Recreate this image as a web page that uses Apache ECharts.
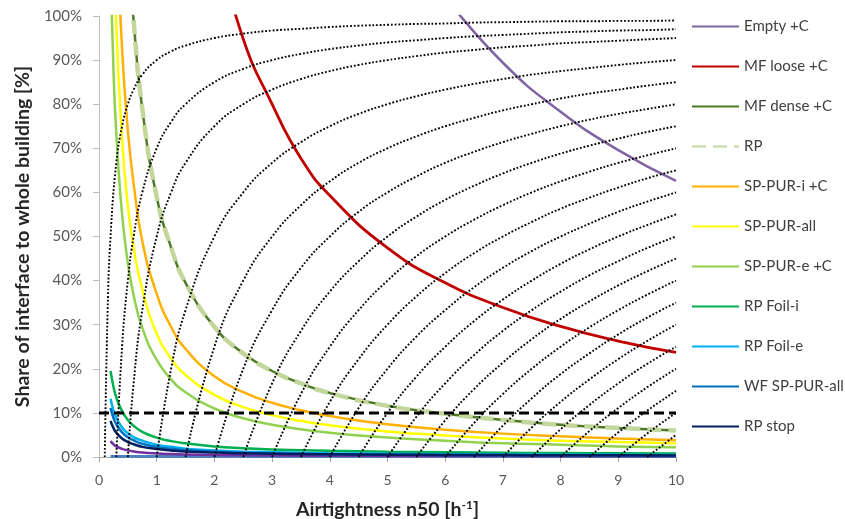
<!DOCTYPE html>
<html>
<head>
<meta charset="utf-8">
<script src="https://cdn.jsdelivr.net/npm/echarts@6/dist/echarts.min.js"></script>
<style>
html,body{margin:0;padding:0;background:#fff;}
#chart{width:845px;height:519px;}
</style>
</head>
<body>
<div id="chart"></div>
<script>
// ---- x positions of the coloured curves ----
const xVals = [0.2,0.25,0.3,0.4,0.5,0.6,0.75,1,1.25,1.5,2,2.5,3,3.5,4,5,6,7,8,9,10];

// ---- coloured series values [%] (null = not drawn) ----
const emptyC    = [null,null,null,null,null,null,null,null,null,null,null,null,null,null,null,null,104.3,89.4,78.3,69.6,62.6];
const mfLoose   = [null,null,null,null,null,null,null,null,null,null,118.5,94.8,80,67.7,59.3,47.4,39.5,33.9,29.6,26.3,23.7];
const mfDense   = [null,null,null,null,118,99,79,59,47.5,39.5,29.5,23.5,19.5,16.7,14.5,11.6,9.8,8.4,7.3,6.6,6.0];
const rp        = [null,null,null,null,118,99,79,59,47.5,39.5,29.5,23.5,19.5,16.7,14.5,11.6,9.8,8.4,7.3,6.6,6.0];
const spPurI    = [185,148,123,92.5,74,62,49,37,29.5,24.5,18.3,14.7,12.3,10.6,9.3,7.4,6.2,5.3,4.7,4.2,3.8];
const spPurAll  = [142,116,98,72,57,47.5,38,28,22.3,18.6,14.1,11.3,9.5,8.2,7.2,5.8,4.9,4.2,3.7,3.4,3.1];
const spPurE    = [110,88,73.3,55,44,36.7,29.3,22,17.6,14.7,11,8.8,7.3,6.3,5.5,4.4,3.7,3.1,2.8,2.4,2.2];
const rpFoilI   = [19.5,16,13.5,10.4,8.4,7.1,5.7,4.4,3.6,3.1,2.4,2.0,1.7,1.55,1.4,1.2,1.07,0.97,0.9,0.84,0.8];
const rpFoilE   = [13.2,10.6,8.9,6.7,5.4,4.5,3.7,2.8,2.3,1.9,1.5,1.2,1.07,0.95,0.85,0.72,0.63,0.57,0.53,0.49,0.46];
const wfSpPur   = [11.1,8.9,7.4,5.6,4.5,3.8,3.0,2.3,1.86,1.57,1.2,0.98,0.83,0.73,0.65,0.54,0.47,0.41,0.38,0.34,0.32];
const rpStop    = [8.2,6.6,5.5,4.2,3.4,2.9,2.3,1.8,1.5,1.27,1.0,0.84,0.73,0.66,0.6,0.52,0.47,0.43,0.4,0.38,0.36];
const purpleLow = [3.6,2.9,2.4,1.85,1.5,1.27,1.03,0.8,0.66,0.57,0.45,0.38,0.33,0.3,0.28,0.24,0.22,0.2,0.19,0.18,0.17];
const baseLine  = [0.1,0.1,0.1,0.1,0.1,0.1,0.1,0.1,0.1,0.1,0.1,0.1,0.1,0.1,0.1,0.1,0.1,0.1,0.1,0.1,0.1];

// ---- dotted guide curves: x positions; each curve's values run to the last x (10) ----
const xDot = [0.1,0.15,0.2,0.3,0.4,0.5,0.6,0.75,1,1.25,1.5,2,2.5,3,3.5,4,4.5,5,5.5,6,6.5,7,7.5,8,8.5,9,9.5,10];
const dotCurves = [
  [0,33.3,50,66.7,75,80,83.3,86.7,90,92,93.3,95,96,96.7,97.1,97.5,97.8,98,98.2,98.3,98.5,98.6,98.7,98.8,98.8,98.9,98.9,99],
  [0,25,40,50,60,70,76,80,85,88,90,91.4,92.5,93.3,94,94.5,95,95.4,95.7,96,96.3,96.5,96.7,96.8,97],
  [0,16.7,33.3,50,60,66.7,75,80,83.3,85.7,87.5,88.9,90,90.9,91.7,92.3,92.9,93.3,93.8,94.1,94.4,94.7,95],
  [0,20,33.3,50,60,66.7,71.4,75,77.8,80,81.8,83.3,84.6,85.7,86.7,87.5,88.2,88.9,89.5,90],
  [0,25,40,50,57.1,62.5,66.7,70,72.7,75,76.9,78.6,80,81.3,82.4,83.3,84.2,85],
  [0,20,33.3,42.9,50,55.6,60,63.6,66.7,69.2,71.4,73.3,75,76.5,77.8,78.9,80],
  [0,16.7,28.6,37.5,44.4,50,54.5,58.3,61.5,64.3,66.7,68.8,70.6,72.2,73.7,75],
  [0,14.3,25,33.3,40,45.5,50,53.8,57.1,60,62.5,64.7,66.7,68.4,70],
  [0,12.5,22.2,30,36.4,41.7,46.2,50,53.3,56.3,58.8,61.1,63.2,65],
  [0,11.1,20,27.3,33.3,38.5,42.9,46.7,50,52.9,55.6,57.9,60],
  [0,10,18.2,25,30.8,35.7,40,43.8,47.1,50,52.6,55],
  [0,9.1,16.7,23.1,28.6,33.3,37.5,41.2,44.4,47.4,50],
  [0,8.3,15.4,21.4,26.7,31.3,35.3,38.9,42.1,45],
  [0,7.7,14.3,20,25,29.4,33.3,36.8,40],
  [0,7.1,13.3,18.8,23.5,27.8,31.6,35],
  [0,6.7,12.5,17.6,22.2,26.3,30],
  [0,6.3,11.8,16.7,21.1,25],
  [0,5.9,11.1,15.8,20],
  [0,5.6,10.5,15],
  [0,5.3,10],
  [0,5]
];

// ---- 10% threshold ----
const thresholdX = [0,10];
const thresholdY = [10,10];

// ---- axis ticks ----
const xTickInterval = 1;
const yTickInterval = 10;

const legendNames = ['Empty +C','MF loose +C','MF dense +C','RP','SP-PUR-i +C','SP-PUR-all','SP-PUR-e +C','RP Foil-i','RP Foil-e','WF SP-PUR-all','RP stop'];

function pairs(xs, ys){
  const out = [];
  for (let i = 0; i < xs.length; i++) { if (ys[i] !== null) out.push([xs[i], ys[i]]); }
  return out;
}
function curve(name, vals, color, width, extra){
  return Object.assign({
    name: name, type: 'line', data: pairs(xVals, vals),
    smooth: 0.5, symbol: 'none', showSymbol: false,
    lineStyle: {color: color, width: width}, itemStyle: {color: color},
    z: 3
  }, extra || {});
}

const series = [];
series.push(curve('base', baseLine, '#4f81bd', 3, {z: 2}));
series.push(curve('low', purpleLow, '#7030a0', 2.5, {z: 2}));
series.push(curve('Empty +C', emptyC, '#8064a2', 2.5));
series.push(curve('MF loose +C', mfLoose, '#c00000', 2.8));
series.push(curve('SP-PUR-e +C', spPurE, '#92d050', 2.5));
series.push(curve('SP-PUR-all', spPurAll, '#ffff00', 2.5));
series.push(curve('SP-PUR-i +C', spPurI, '#ffb000', 2.5));
series.push(curve('MF dense +C', mfDense, '#4f7a28', 2.5));
series.push(curve('RP', rp, '#c3d69b', 4.5, {lineStyle: {color: '#c3d69b', width: 4.5, type: [14, 7]}}));
series.push(curve('RP Foil-i', rpFoilI, '#00b050', 2.5));
series.push(curve('RP Foil-e', rpFoilE, '#00b0f0', 2.5));
series.push(curve('WF SP-PUR-all', wfSpPur, '#0070c0', 2.5));
series.push(curve('RP stop', rpStop, '#002060', 2.5));

dotCurves.forEach(function(vals, k){
  const xs = xDot.slice(xDot.length - vals.length);
  series.push({
    name: 'guide' + k, type: 'line', data: pairs(xs, vals),
    smooth: 0.5, symbol: 'none', showSymbol: false,
    lineStyle: {color: '#000', width: 1.9, type: [1.8, 1.9]}, z: 4, silent: true
  });
});

series.push({
  name: 'threshold', type: 'line', data: pairs(thresholdX, thresholdY),
  symbol: 'none', lineStyle: {color: '#000', width: 3, type: [10, 5]}, z: 5, silent: true
});

const chart = echarts.init(document.getElementById('chart'), null, {renderer: 'canvas'});
chart.setOption({
  animation: false,
  backgroundColor: '#fff',
  textStyle: {fontFamily: 'Lato, sans-serif'},
  grid: {left: 99, right: 169, top: 16, bottom: 62, containLabel: false, outerBoundsMode: 'none'},
  legend: {
    data: legendNames, orient: 'vertical', left: 686, top: 14,
    itemWidth: 47, itemHeight: 14, itemGap: 25,
    itemStyle: {opacity: 0},
    textStyle: {fontSize: 15, color: '#404040', fontFamily: 'Lato, sans-serif'},
    selectedMode: false
  },
  xAxis: {
    type: 'value', min: 0, max: 10, interval: xTickInterval,
    name: '{a|Airtightness n50 [h}{s|-1}{a|]}', nameLocation: 'middle', nameGap: 42,
    nameTextStyle: {rich: {
      a: {fontSize: 19.5, fontWeight: 'bold', color: '#262626', fontFamily: 'Lato, sans-serif'},
      s: {fontSize: 12, fontWeight: 'bold', color: '#262626', fontFamily: 'Lato, sans-serif', verticalAlign: 'top', padding: [0,0,9,0]}
    }},
    axisLine: {show: true, lineStyle: {color: '#a6a6a6', width: 1}},
    axisTick: {show: true, length: 5, lineStyle: {color: '#a6a6a6'}},
    axisLabel: {fontSize: 14, color: '#595959', margin: 16, fontFamily: 'Lato, sans-serif'},
    splitLine: {show: false}
  },
  yAxis: {
    type: 'value', min: 0, max: 100, interval: yTickInterval,
    name: 'Share of interface to whole building [%]', nameLocation: 'middle', nameGap: 56,
    nameTextStyle: {fontSize: 19.5, fontWeight: 'bold', color: '#262626', fontFamily: 'Lato, sans-serif'},
    axisLine: {show: true, lineStyle: {color: '#bfbfbf', width: 1}},
    axisTick: {show: true, length: 6, lineStyle: {color: '#bfbfbf'}},
    axisLabel: {fontSize: 15, color: '#595959', margin: 17, formatter: '{value}%', fontFamily: 'Lato, sans-serif'},
    splitLine: {show: false}
  },
  series: series
});
</script>
</body>
</html>
